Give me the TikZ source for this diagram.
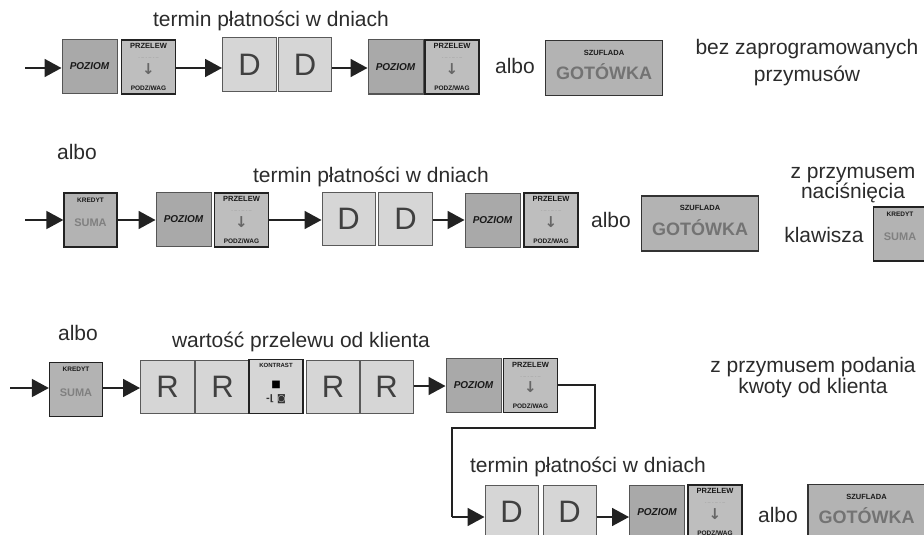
\documentclass[tikz,border=0pt]{standalone}
\usepackage{fontspec}
\setmainfont{Liberation Sans}
\newfontfamily\dvs{DejaVu Sans}
\usetikzlibrary{arrows.meta}
\definecolor{pozfill}{HTML}{A9A9A9}
\definecolor{pozdraw}{HTML}{555555}
\definecolor{przfill}{HTML}{BEBEBE}
\definecolor{przdraw}{HTML}{222222}
\definecolor{dfill}{HTML}{D6D6D6}
\definecolor{ddraw}{HTML}{5A5A5A}
\definecolor{gotfill}{HTML}{B3B3B3}
\definecolor{gotdraw}{HTML}{333333}
\definecolor{txt}{HTML}{2B2B2B}
\definecolor{arrc}{HTML}{222222}
\tikzset{
 keybase/.style={draw, inner sep=0pt},
 pozbox/.style={keybase, fill=pozfill, draw=pozdraw, line width=1pt, minimum width=55pt, minimum height=54pt, text=black!90, font=\fontsize{10}{10}\selectfont\bfseries\itshape},
 przbox/.style={keybase, fill=przfill, draw=przdraw, line width=1.5pt, minimum width=54pt, minimum height=54pt},
 kredbox/.style={keybase, fill=gotfill, draw=przdraw, line width=1.3pt, minimum width=53pt, minimum height=54pt},
 dbox/.style={keybase, fill=dfill, draw=ddraw, line width=1pt, minimum width=54pt, minimum height=54pt, text=black!75, font=\fontsize{31}{31}\selectfont},
 gotbox/.style={keybase, fill=gotfill, draw=gotdraw, line width=1.3pt, minimum width=117pt, minimum height=55pt},
 keytop/.style={inner sep=0pt, anchor=north, text=black!90, font=\fontsize{7.5}{7.5}\selectfont\bfseries},
 keybot/.style={inner sep=0pt, anchor=south, text=black!90, font=\fontsize{6.5}{6.5}\selectfont\bfseries},
 keymid/.style={inner sep=0pt, text=black!60},
 lab/.style={inner sep=0pt, text=txt, font=\fontsize{21}{21}\selectfont, align=center},
 arr/.style={line width=1.8pt, draw=arrc, -{Triangle[length=17pt,width=18pt]}},
 link/.style={line width=1.6pt, draw=arrc},
}
\newcommand\PozKey[2]{\node[pozbox] (#1) at (#2) {POZIOM};}
\newcommand\PrzKey[2]{%
 \node[przbox] (#1) at (#2) {};
 \node[keytop] (#1-t) at ([yshift=-4pt]#1.north) {PRZELEW};
 \node[keymid, font=\fontsize{5}{5}\selectfont, text=black!40] (#1-d) at ([yshift=8pt]#1.center) {- -- - -- - --};
 \node[keymid, font=\dvs\fontsize{15}{15}\selectfont\bfseries] (#1-a) at ([yshift=-2pt]#1.center) {↓};
 \node[keybot] (#1-b) at ([yshift=4pt]#1.south) {PODZ/WAG};}
\newcommand\KredKey[2]{%
 \node[kredbox] (#1) at (#2) {};
 \node[keytop, font=\fontsize{6.5}{6.5}\selectfont\bfseries] (#1-t) at ([yshift=-5pt]#1.north) {KREDYT};
 \node[keymid, font=\fontsize{11}{11}\selectfont\bfseries, text=black!50] (#1-s) at ([yshift=-3pt]#1.center) {SUMA};}
\newcommand\GotKey[2]{%
 \node[gotbox] (#1) at (#2) {};
 \node[keytop, font=\fontsize{7.5}{7.5}\selectfont\bfseries] (#1-t) at ([yshift=-10pt]#1.north) {SZUFLADA};
 \node[keymid, font=\fontsize{18}{18}\selectfont\bfseries, text=black!55] (#1-g) at ([yshift=-4pt]#1.center) {GOTÓWKA};}
\newcommand\KontKey[2]{%
 \node[przbox, fill=dfill, line width=1.3pt] (#1) at (#2) {};
 \node[keytop, font=\fontsize{6}{6}\selectfont\bfseries] (#1-t) at ([yshift=-4pt]#1.north) {KONTRAST};
 \node[keymid, font=\dvs\fontsize{10}{10}\selectfont, text=black] (#1-q) at ([yshift=2pt]#1.center) {■};
 \node[keymid, font=\dvs\fontsize{9}{9}\selectfont\bfseries, text=black!80] (#1-b) at ([yshift=-13pt]#1.center) {-⌊ ◙};}
\begin{document}
\begin{tikzpicture}[x=1pt,y=-1pt]
\useasboundingbox (0,0) rectangle (924,535);
% ---------- row 1 ----------
\node[lab] (t1) at (271,21) {termin płatności w dniach};
\coordinate (s1) at (25,68);
\PozKey{p1}{89.5,66.5}
\PrzKey{z1}{148.5,67}
\node[dbox] (d1a) at (249.5,65) {D};
\node[dbox, minimum width=53pt] (d1b) at (305,65) {D};
\PozKey{p1b}{395.5,67}
\PrzKey{z1b}{452,67}
\node[lab] (a1) at (515,66) {albo};
\GotKey{g1}{604,68}
\node[lab, font=\fontsize{21}{27}\selectfont] (r1) at (807,63) {bez zaprogramowanych\\przymusów};
\draw[arr] (s1) -- (s1 -| p1.west);
\draw[arr] (z1.east |- s1) -- (s1 -| d1a.west);
\draw[arr] (d1b.east |- s1) -- (s1 -| p1b.west);
% ---------- row 2 ----------
\node[lab] (al2) at (77,152) {albo};
\node[lab] (t2) at (371,177) {termin płatności w dniach};
\coordinate (s2) at (25,220);
\KredKey{k2}{90.5,220}
\PozKey{p2}{183.5,219.5}
\PrzKey{z2}{241.5,220}
\node[dbox, minimum width=53pt, minimum height=53pt] (d2a) at (348.5,218.5) {D};
\node[dbox, minimum height=53pt] (d2b) at (405.5,218.5) {D};
\PozKey{p2b}{492.5,220}
\PrzKey{z2b}{551,220}
\node[lab] (a2) at (611,220) {albo};
\GotKey{g2}{700,223.5}
\node[lab, font=\fontsize{21}{14}\selectfont] (r2) at (853,185) {z przymusem\\naciśnięcia};
\node[lab] (kl2) at (824,235) {klawisza};
\KredKey{k2b}{900,234}
\draw[arr] (s2) -- (s2 -| k2.west);
\draw[arr] (k2.east |- s2) -- (s2 -| p2.west);
\draw[arr] (z2.east |- s2) -- (s2 -| d2a.west);
\draw[arr] (d2b.east |- s2) -- (s2 -| p2b.west);
% ---------- row 3 ----------
\node[lab] (al3) at (78,333) {albo};
\node[lab] (t3) at (301,342) {wartość przelewu od klienta};
\coordinate (s3) at (10,388);
\KredKey{k3}{76,389.5}
\node[dbox, minimum height=53pt] (r3a) at (167.5,386.5) {R};
\node[dbox, minimum height=53pt] (r3b) at (222.5,386.5) {R};
\KontKey{c3}{276,386.5}
\node[dbox, minimum width=53pt, minimum height=53pt] (r3c) at (333,386.5) {R};
\node[dbox, minimum width=53pt, minimum height=53pt] (r3d) at (386.5,386.5) {R};
\PozKey{p3}{473.5,385.5}
\PrzKey{z3}{530.5,385.5}
\node[lab, font=\fontsize{21}{21}\selectfont] (r3t) at (813,378) {z przymusem podania\\kwoty od klienta};
\draw[arr] (s3) -- (s3 -| k3.west);
\draw[arr] (k3.east |- s3) -- (s3 -| r3a.west);
\draw[arr] (r3d.east |- 0,386) -- (p3.west |- 0,386);
% ---------- row 4 ----------
\node[lab] (t4) at (588,467) {termin płatności w dniach};
\node[dbox, minimum width=53pt] (d4a) at (511.5,512) {D};
\node[dbox, minimum width=53pt] (d4b) at (569.5,512) {D};
\PozKey{p4}{657,512}
\PrzKey{z4}{715,512}
\node[lab] (a4) at (778,515) {albo};
\GotKey{g4}{866.5,512}
\coordinate (c1) at (595,385);
\coordinate (c2) at (595,428);
\coordinate (c3b) at (452,428);
\coordinate (c4) at (452,517);
\draw[link] (z3.east |- c1) -- (c1) -- (c2) -- (c3b) -- (c4);
\draw[arr] (c4) -- (c4 -| d4a.west);
\draw[arr] (d4b.east |- c4) -- (c4 -| p4.west);
\end{tikzpicture}
\end{document}
